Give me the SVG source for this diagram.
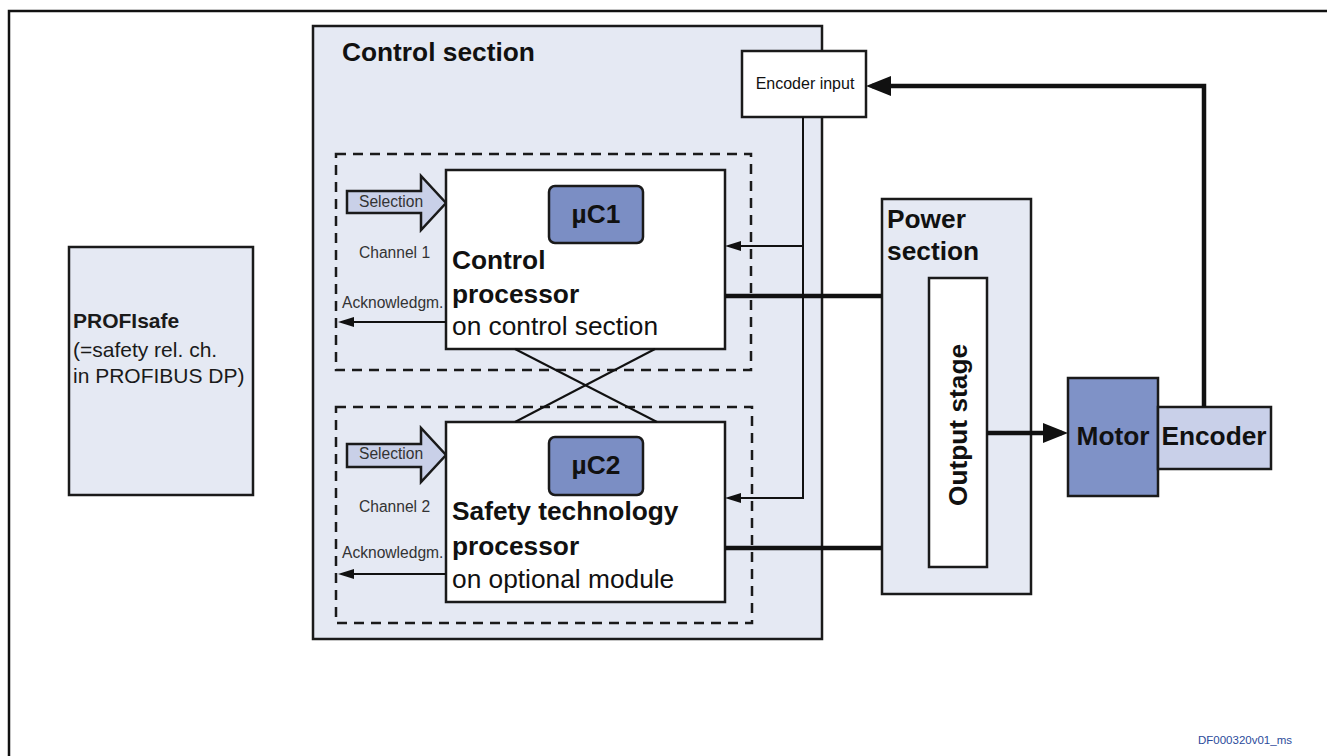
<svg xmlns="http://www.w3.org/2000/svg" width="1327" height="756" viewBox="0 0 1327 756">
  <style>
    .frame { fill: none; stroke: #111; stroke-width: 2.5; }
    .sect { fill: #e5e9f3; stroke: #1a1a1a; stroke-width: 2.5; }
    .white { fill: #ffffff; stroke: #1a1a1a; stroke-width: 2.5; }
    .uc { fill: #7b8ec4; stroke: #1a1a1a; stroke-width: 2.5; }
    .motor { fill: #7f92c7; stroke: #1a1a1a; stroke-width: 2.5; }
    .enc { fill: #c9d0e9; stroke: #1a1a1a; stroke-width: 2.5; }
    .sel { fill: #c9d0e8; stroke: #1a1a1a; stroke-width: 2.5; stroke-linejoin: miter; }
    .dash { fill: none; stroke: #1a1a1a; stroke-width: 2.5; stroke-dasharray: 10 7; }
    .thin { fill: none; stroke: #111; stroke-width: 2; }
    .thick { fill: none; stroke: #111; stroke-width: 4.5; }
    text { font-family: "Liberation Sans", Arial, Helvetica, sans-serif; fill: #111; }
    .big { font-size: 26.3px; font-weight: bold; }
    .reg { font-size: 26.3px; }
    .small { font-size: 15.6px; fill: #333; }
    .pf { font-size: 21px; fill: #1a1a1a; }
    .code { font-size: 11.5px; fill: #2b4b9b; }
  </style>
  <defs>
    <marker id="ahThin" markerUnits="userSpaceOnUse" viewBox="0 0 16 10" markerWidth="16" markerHeight="10" refX="13" refY="5" orient="auto">
      <path d="M0,0 L16,5 L0,10 z" fill="#111"/>
    </marker>
    <marker id="ahThick" markerUnits="userSpaceOnUse" viewBox="0 0 25 20" markerWidth="25" markerHeight="20" refX="19" refY="10" orient="auto">
      <path d="M0,0 L25,10 L0,20 z" fill="#111"/>
    </marker>
  </defs>

  <!-- outer frame -->
  <rect class="frame" x="9" y="11" width="1340" height="770"/>

  <!-- PROFIsafe -->
  <g id="profisafe">
    <rect class="sect" x="69" y="247" width="184" height="248"/>
    <text class="pf" x="73" y="328" font-weight="bold">PROFIsafe</text>
    <text class="pf" x="73" y="357">(=safety rel. ch.</text>
    <text class="pf" x="73" y="383">in PROFIBUS DP)</text>
  </g>

  <!-- Control section -->
  <g id="control-section">
    <rect class="sect" x="313" y="26" width="509" height="613"/>
    <text class="big" x="342" y="61">Control section</text>
  </g>

  <!-- Channel 1 -->
  <g id="channel1">
    <rect class="dash" x="336" y="154" width="415" height="216"/>
    <polygon class="sel" points="347,191 421,191 421,176 446,203 421,230 421,213 347,213"/>
    <text class="small" x="359" y="207">Selection</text>
    <text class="small" x="359" y="258">Channel 1</text>
    <text class="small" x="342" y="308">Acknowledgm.</text>
  </g>

  <g id="uc1-box">
    <rect class="white" x="446" y="170" width="279" height="179"/>
    <rect class="uc" x="549" y="186" width="94" height="57" rx="6"/>
    <text class="big" x="596" y="223" text-anchor="middle" font-size="24">µC1</text>
    <text class="big" x="452" y="269">Control</text>
    <text class="big" x="452" y="303">processor</text>
    <text class="reg" x="452" y="335">on control section</text>
  </g>

  <!-- Channel 2 -->
  <g id="channel2">
    <rect class="dash" x="336" y="407" width="416" height="216"/>
    <polygon class="sel" points="347,444 421,444 421,428 446,455 421,482 421,467 347,467"/>
    <text class="small" x="359" y="459">Selection</text>
    <text class="small" x="359" y="512">Channel 2</text>
    <text class="small" x="342" y="558">Acknowledgm.</text>
  </g>

  <g id="uc2-box">
    <rect class="white" x="446" y="422" width="279" height="180"/>
    <rect class="uc" x="549" y="437" width="94" height="58" rx="6"/>
    <text class="big" x="596" y="474" text-anchor="middle" font-size="24">µC2</text>
    <text class="big" x="452" y="520">Safety technology</text>
    <text class="big" x="452" y="555">processor</text>
    <text class="reg" x="452" y="588">on optional module</text>
  </g>

  <!-- Encoder input -->
  <g id="encoder-input">
    <rect class="white" x="742" y="51" width="124" height="66"/>
    <text x="805" y="89" text-anchor="middle" font-size="16" fill="#222">Encoder input</text>
  </g>

  <!-- Power section -->
  <g id="power-section">
    <rect class="sect" x="882" y="199" width="149" height="395"/>
    <text class="big" x="887" y="228">Power</text>
    <text class="big" x="887" y="260">section</text>
  </g>

  <g id="output-stage">
    <rect class="white" x="929" y="278" width="58" height="289"/>
    <text class="big" x="0" y="0" text-anchor="middle" transform="translate(967,425) rotate(-90)">Output stage</text>
  </g>

  <!-- Motor and encoder -->
  <g id="motor">
    <rect class="motor" x="1068" y="378" width="90" height="118"/>
    <text class="big" x="1113" y="445" text-anchor="middle">Motor</text>
  </g>
  <g id="encoder">
    <rect class="enc" x="1158" y="407" width="113" height="62"/>
    <text class="big" x="1214" y="445" text-anchor="middle">Encoder</text>
  </g>

  <!-- Connectors -->
  <g id="connectors">
    <!-- cross-link between the two processors -->
    <path class="thin" d="M515,349 L657,422"/>
    <path class="thin" d="M655,349 L515,422"/>
    <!-- encoder signal to both processors -->
    <path class="thin" d="M803,117 V498 H728" marker-end="url(#ahThin)"/>
    <path class="thin" d="M803,246 H728" marker-end="url(#ahThin)"/>
    <!-- acknowledgements -->
    <path class="thin" d="M446,322 H341" marker-end="url(#ahThin)"/>
    <path class="thin" d="M446,574 H341" marker-end="url(#ahThin)"/>
    <!-- processors to power section -->
    <path class="thick" d="M725,296 H882"/>
    <path class="thick" d="M725,548 H882"/>
    <!-- output stage to motor -->
    <path class="thick" d="M987,433 H1062" marker-end="url(#ahThick)"/>
    <!-- encoder feedback -->
    <path class="thick" d="M1204,407 V86 H872" marker-end="url(#ahThick)"/>
  </g>

  <text class="code" x="1198" y="744">DF000320v01_ms</text>
</svg>
